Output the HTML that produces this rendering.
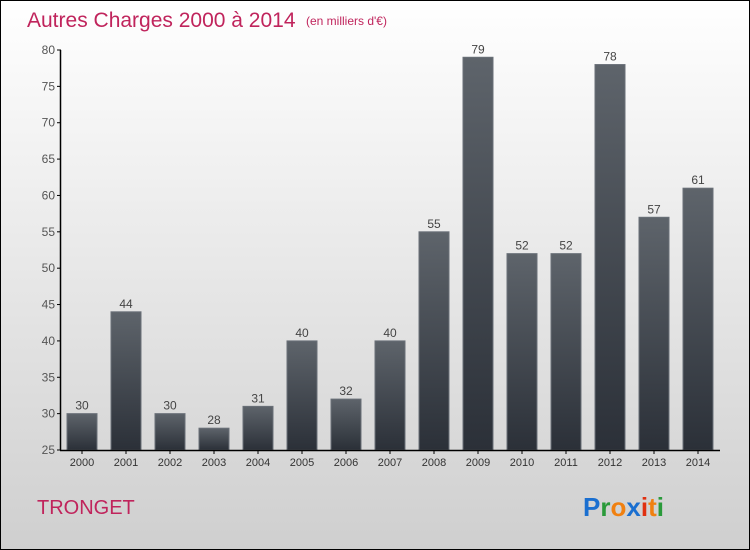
<!DOCTYPE html>
<html><head><meta charset="utf-8"><style>
body{margin:0}
#c{width:750px;height:550px;position:relative;overflow:hidden}
svg text{font-family:"Liberation Sans",sans-serif}
</style></head><body>
<div id="c">
<svg id="s" width="750" height="550" xmlns="http://www.w3.org/2000/svg">
<defs>
<linearGradient id="bg" x1="0" y1="0" x2="0" y2="1"><stop offset="0" stop-color="#ffffff"/><stop offset="1" stop-color="#cfcfcf"/></linearGradient>
<linearGradient id="bar" x1="0" y1="0" x2="0" y2="1"><stop offset="0" stop-color="#5e646b"/><stop offset="1" stop-color="#2b3038"/></linearGradient>
</defs>
<rect x="0.5" y="0.5" width="749" height="549" fill="url(#bg)" stroke="#000"/>
<text x="27" y="27" font-size="21" fill="#c0245c">Autres Charges 2000 à 2014</text>
<text x="306" y="25" font-size="12" fill="#c0245c">(en milliers d'€)</text>
<text x="37" y="514" font-size="20" fill="#c0245c">TRONGET</text>
<g font-size="26" font-weight="bold">
<text x="583" y="516"><tspan fill="#1a6fd0">P</tspan><tspan fill="#2a9a3a">r</tspan><tspan fill="#f08010">o</tspan><tspan fill="#1a6fd0">x</tspan><tspan fill="#e03010">i</tspan><tspan fill="#f08010">t</tspan><tspan fill="#2a9a3a">i</tspan></text>
</g>
<g id="plot"></g>
</svg>
</div>
<script>
const years=["2000","2001","2002","2003","2004","2005","2006","2007","2008","2009","2010","2011","2012","2013","2014"];
const values=[30,44,30,28,31,40,32,40,55,79,52,52,78,57,61];
const ticks=[25,30,35,40,45,50,55,60,65,70,75,80];
const NS="http://www.w3.org/2000/svg";
const g=document.getElementById('plot');
const y=v=>450-(v-25)*400/55;
const x=i=>82+i*44;
function mk(t,a){const e=document.createElementNS(NS,t);for(const k in a)e.setAttribute(k,a[k]);g.appendChild(e);return e;}
years.forEach((yr,i)=>{
 const r=mk('rect',{x:x(i)-15,y:y(values[i]),width:30,height:450-y(values[i]),fill:'url(#bar)',stroke:'#6a7078','stroke-width':1});
 
 
 const v=mk('text',{x:x(i),y:y(values[i])-4,'font-size':12,fill:'#444','text-anchor':'middle'});v.textContent=values[i];
 
 
 const l=mk('text',{x:x(i),y:466,'font-size':11,fill:'#333','text-anchor':'middle'});l.textContent=yr;
 
 
 const tk=mk('line',{x1:x(i),x2:x(i),y1:450,y2:454,stroke:'#000'});
 
 
});
ticks.forEach(t=>{
 const tl=mk('line',{x1:57,x2:61,y1:y(t),y2:y(t),stroke:'#000'});
 
 
 const tx=mk('text',{x:55,y:y(t)+4,'font-size':12,fill:'#555','text-anchor':'end'});tx.textContent=t;
 
 
});
const ya=mk('line',{x1:60.5,x2:60.5,y1:50,y2:450,stroke:'#000','stroke-width':1.5});


const xa=mk('line',{x1:60,x2:720,y1:450.5,y2:450.5,stroke:'#000','stroke-width':1.5});


</script>
</body></html>
